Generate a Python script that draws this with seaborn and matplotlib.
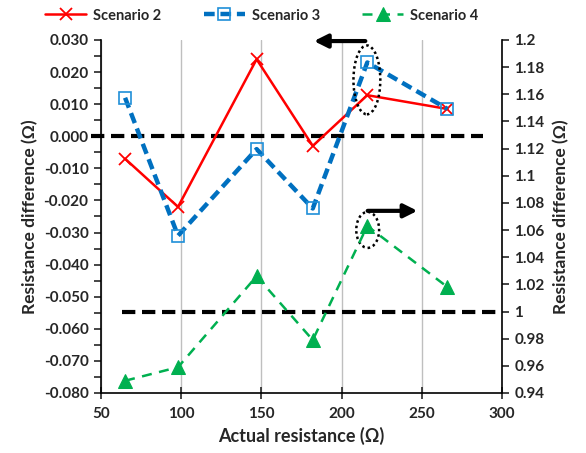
import seaborn as sns
import pandas as pd
import matplotlib.pyplot as plt
import matplotlib.transforms as mtransforms
import numpy as np
from matplotlib.patches import Ellipse
from matplotlib.ticker import MultipleLocator, FormatStrFormatter

sns.set_theme(style='white')
plt.rcParams['font.family'] = ['Lato', 'DejaVu Sans']
plt.rcParams['font.weight'] = 'bold'

x_name = 'Actual resistance'
actual = [65, 98, 147, 182, 216, 266]
scen2 = [-0.007, -0.022, 0.024, -0.003, 0.0128, 0.0085]
scen3 = [0.012, -0.031, -0.004, -0.0225, 0.023, 0.0085]
scen4 = [0.949, 0.959, 1.026, 0.979, 1.063, 1.018]

df = pd.DataFrame({x_name: actual, 'Scenario 2': scen2, 'Scenario 3': scen3, 'Scenario 4': scen4})

fig = plt.figure(figsize=(5.86, 4.53), dpi=100)
ax = fig.add_axes([0.1724, 0.1325, 0.6843, 0.7792])
ax2 = ax.twinx()

red, blue, green = '#FF0000', '#0070C0', '#00B050'

sns.lineplot(data=df, x=x_name, y='Scenario 2', ax=ax, sort=False, color=red, lw=1.8,
             marker='x', markersize=9, markeredgewidth=1.3, markeredgecolor=red, label='Scenario 2', legend=False)
sns.lineplot(data=df, x=x_name, y='Scenario 3', ax=ax, sort=False, color=blue, lw=3.2,
             dashes=(2.4, 1.3), marker='s', markersize=8, markerfacecolor='none',
             markeredgecolor='#1F8FD8', markeredgewidth=1.2, label='Scenario 3', legend=False)
sns.lineplot(data=df, x=x_name, y='Scenario 4', ax=ax2, sort=False, color=green, lw=1.8,
             dashes=(4, 3), marker='^', markersize=10, markeredgecolor=green, label='Scenario 4', legend=False)

ax.set_xlim(50, 300)
ax.set_ylim(-0.080, 0.030)
ax2.set_ylim(0.94, 1.2)
ax.xaxis.set_major_locator(MultipleLocator(50))
ax.yaxis.set_major_locator(MultipleLocator(0.01))
ax.yaxis.set_minor_locator(MultipleLocator(0.005))
ax.yaxis.set_major_formatter(FormatStrFormatter('%.3f'))
ax2.yaxis.set_major_locator(MultipleLocator(0.02))
ax2.yaxis.set_major_formatter(plt.FuncFormatter(lambda v, p: f'{v:.2f}'.rstrip('0').rstrip('.')))

ax.grid(axis='x', color='#BFBFBF', lw=1)
ax.grid(axis='y', visible=False)
ax2.grid(False)
for a in (ax, ax2):
    for s in a.spines.values():
        s.set_visible(False)
ax.spines['left'].set_visible(True)
ax.spines['bottom'].set_visible(True)
ax2.spines['right'].set_visible(True)
for s in (ax.spines['left'], ax.spines['bottom'], ax2.spines['right']):
    s.set_color('black')
    s.set_linewidth(1.2)

ax.tick_params(axis='y', which='both', left=True, direction='out', length=5, width=1.2, labelsize=11, pad=4)
ax.tick_params(axis='x', bottom=True, direction='inout', length=8, width=1.2, labelsize=11, pad=6)
ax2.tick_params(axis='y', right=True, direction='out', length=5, width=1.2, labelsize=11, pad=4)
for lab in ax.get_xticklabels() + ax.get_yticklabels() + ax2.get_yticklabels():
    lab.set_fontweight('bold')

ax.set_xlabel('Actual resistance (\u03a9)', fontsize=13, fontweight='bold', labelpad=4)
ax.set_ylabel('Resistance difference (\u03a9)', fontsize=12.5, fontweight='bold', labelpad=4)
ax2.set_ylabel('Resistance difference (\u03a9)', fontsize=12.5, fontweight='bold', labelpad=6)

# reference lines at zero difference (left) and ratio 1 (right)
tr_left = mtransforms.blended_transform_factory(ax.transAxes, ax.transData)
tr_right = mtransforms.blended_transform_factory(ax2.transAxes, ax2.transData)
ax.plot([-0.025, 0.953], [0.0, 0.0], transform=tr_left, color='black', lw=3,
        dashes=(3.2, 1.6), clip_on=False, zorder=1)
ax2.plot([0.052, 1.0], [1.0, 1.0], transform=tr_right, color='black', lw=3,
         dashes=(3.2, 1.6), clip_on=False, zorder=1)

ax2.annotate('', xy=(0.524, 0.997), xytext=(0.666, 0.997), xycoords='axes fraction',
             arrowprops=dict(arrowstyle='-|>', color='black', lw=3, mutation_scale=20))
ax2.annotate('', xy=(0.796, 0.516), xytext=(0.658, 0.516), xycoords='axes fraction',
             arrowprops=dict(arrowstyle='-|>', color='black', lw=3, mutation_scale=20))
ax2.add_patch(Ellipse((0.663, 0.887), 0.067, 0.195, transform=ax2.transAxes, fill=False,
                      ls=(0, (1, 1.2)), lw=1.8, ec='black', clip_on=False))
ax2.add_patch(Ellipse((0.665, 0.462), 0.057, 0.102, transform=ax2.transAxes, fill=False,
                      ls=(0, (1, 1.2)), lw=1.8, ec='black', clip_on=False))

handles = ax.get_lines()[:2] + ax2.get_lines()[:1]
fig.legend(handles=handles, labels=['Scenario 2', 'Scenario 3', 'Scenario 4'], loc='upper center',
           bbox_to_anchor=(0.447, 1.01), ncol=3, frameon=False, prop={'size': 10.5, 'weight': 'bold'},
           handlelength=2.8, columnspacing=2.9, handletextpad=0.5)

plt.savefig('out.png', dpi=100)
